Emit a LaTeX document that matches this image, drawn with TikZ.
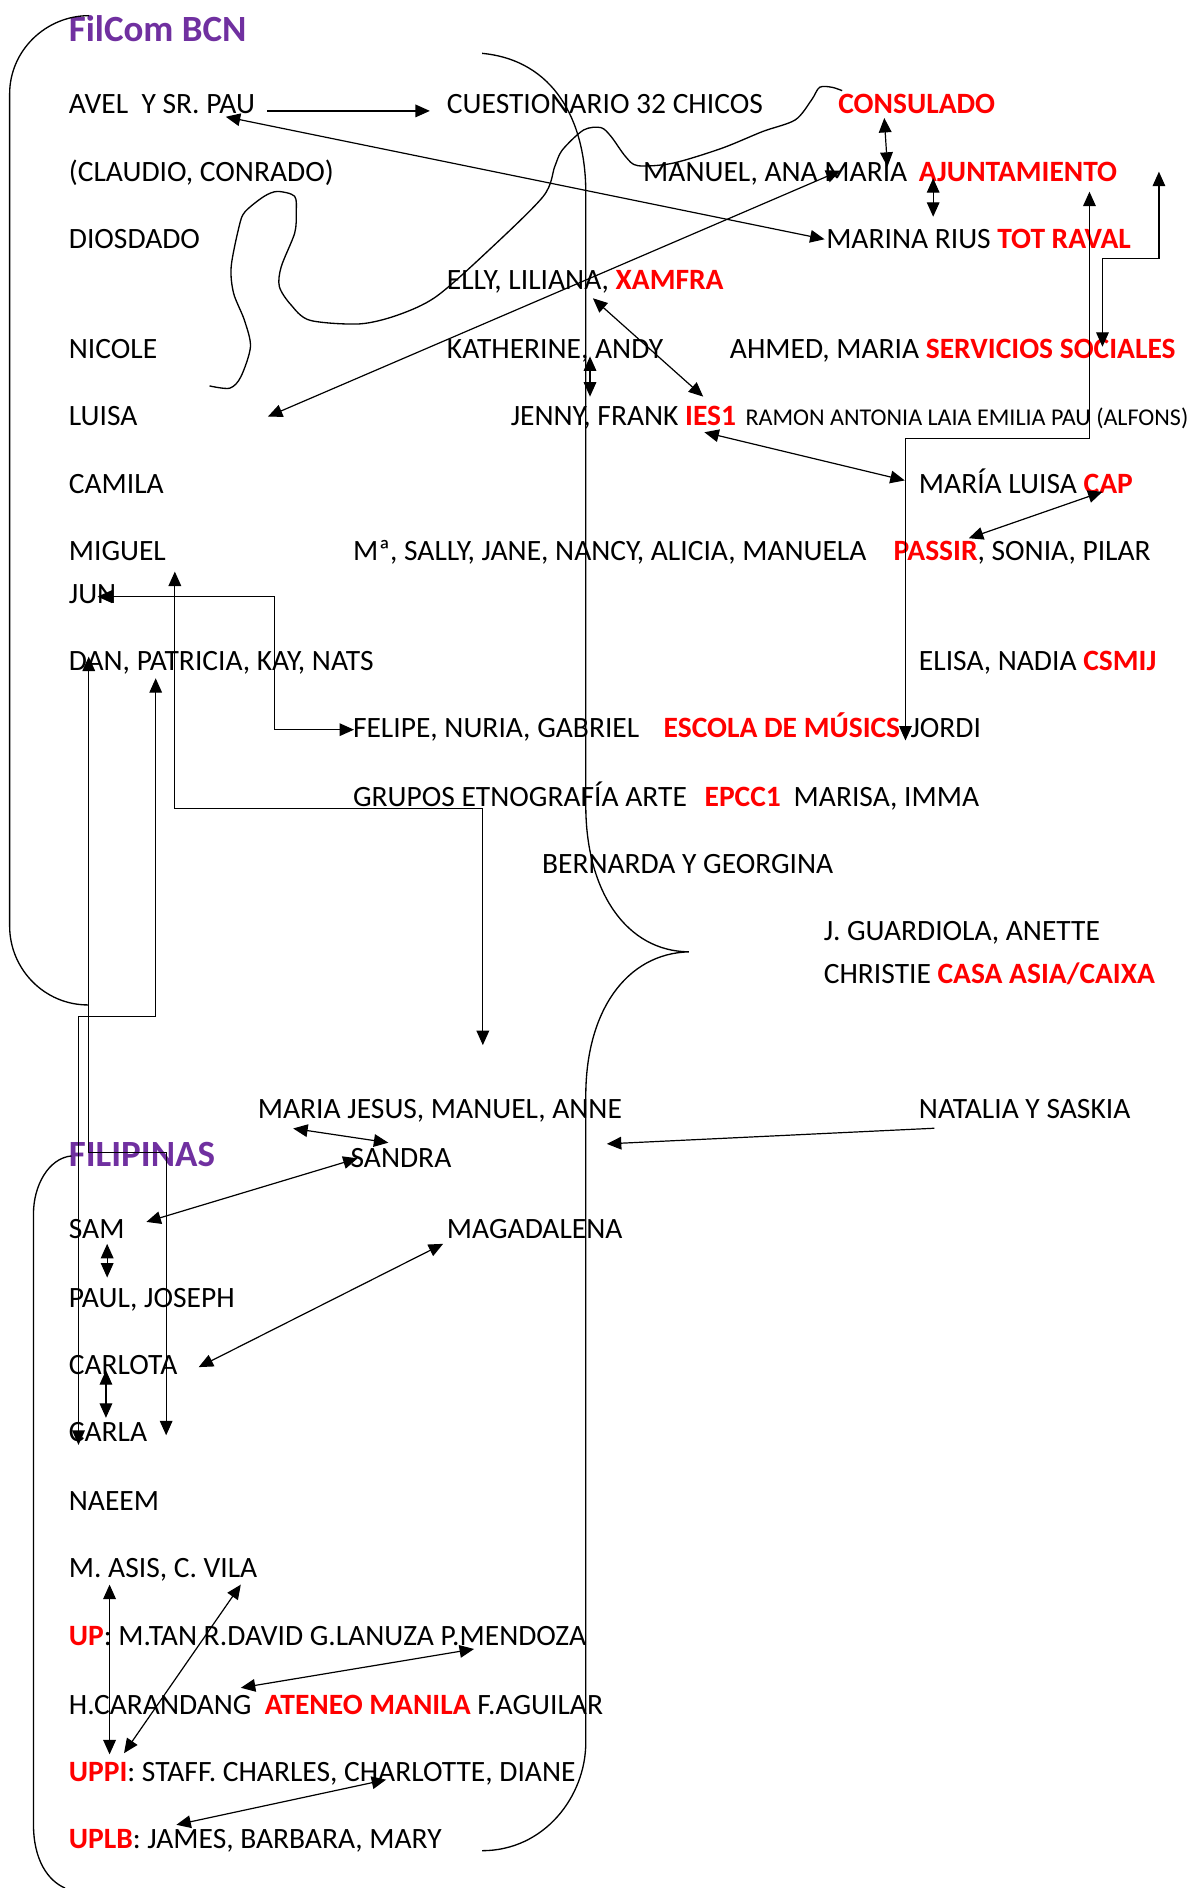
\documentclass[tikz,border=0pt]{standalone}
\usepackage{fontspec}
\setmainfont{Carlito}
\usetikzlibrary{arrows.meta}
\definecolor{filpurple}{HTML}{7030A0}
\definecolor{orgred}{HTML}{FF0000}
\newcommand{\org}[1]{\textcolor{orgred}{\bfseries #1}}

\begin{document}
\begin{tikzpicture}[x=1pt,y=-1pt,
  txt/.style={anchor=base west,inner sep=0pt,font=\fontsize{24.5}{29}\selectfont},
  small/.style={txt,font=\fontsize{20}{24}\selectfont},
  head/.style={txt,text=filpurple,font=\fontsize{30.7}{36}\selectfont\bfseries},
  conn/.style={line width=1pt},
  arr/.style={conn,-{Triangle[length=12pt,width=10.5pt]}},
  dbl/.style={conn,{Triangle[length=12pt,width=10.5pt]}-{Triangle[length=12pt,width=10.5pt]}},
  brace/.style={line width=1.1pt}]
  \useasboundingbox (0,0) rectangle (989,1568);

  % headings
  \node[head] (bcn) at (57,34.6) {FilCom BCN};
  \node[head] (fil) at (57,969) {FILIPINAS};

  % left column
  \foreach \nm/\yy/\txt in {avel/94.5/{AVEL\ \ Y SR. PAU}, claudio/150.5/{(CLAUDIO, CONRADO)},
      diosdado/206.5/DIOSDADO, nicole/297.5/NICOLE, luisa/353.5/LUISA, camila/409.5/CAMILA,
      miguel/465.5/MIGUEL, jun/501.5/JUN, dan/556.5/{DAN, PATRICIA, KAY, NATS},
      sam/1028.5/SAM, paul/1085.5/{PAUL, JOSEPH}, carlota/1141.5/CARLOTA, carla/1197.5/CARLA,
      naeem/1254.5/NAEEM, masis/1310.5/{M. ASIS, C. VILA}}
    \node[txt] (\nm) at (57,\yy) {\txt};
  \node[txt] (up) at (57,1366.5) {\org{UP}: M.TAN R.DAVID G.LANUZA P.MENDOZA};
  \node[txt] (ateneo) at (57,1423.5) {H.CARANDANG\ \ \org{ATENEO MANILA} F.AGUILAR};
  \node[txt] (uppi) at (57,1479.5) {\org{UPPI}: STAFF. CHARLES, CHARLOTTE, DIANE};
  \node[txt] (uplb) at (57,1535.5) {\org{UPLB}: JAMES, BARBARA, MARY};

  % Barcelona contacts
  \node[txt] (cuest) at (371,94.5) {CUESTIONARIO 32 CHICOS};
  \node[txt] (consul) at (696,94.5) {\org{CONSULADO}};
  \node[txt] (manuel) at (534,150.5) {MANUEL, ANA MARIA};
  \node[txt] (ajunt) at (763,150.5) {\org{AJUNTAMIENTO}};
  \node[txt] (marina) at (686,206.5) {MARINA RIUS \org{TOT RAVAL}};
  \node[txt] (elly) at (371,240.5) {ELLY, LILIANA, \org{XAMFRA}};
  \node[txt] (kath) at (371,297.5) {KATHERINE, ANDY};
  \node[txt] (ahmed) at (606,297.5) {AHMED, MARIA \org{SERVICIOS SOCIALES}};
  \node[txt] (jenny) at (424,353.5) {JENNY, FRANK \org{IES1}};
  \node[small] (ramon) at (619,353.5) {RAMON ANTONIA LAIA EMILIA PAU (ALFONS)};
  \node[txt] (mluisa) at (763,409.5) {MARÍA LUISA \org{CAP}};
  \node[txt] (sally) at (293,465.5) {Mª, SALLY, JANE, NANCY, ALICIA, MANUELA};
  \node[txt] (passir) at (742,465.5) {\org{PASSIR}, SONIA, PILAR};
  \node[txt] (elisa) at (763,556.5) {ELISA, NADIA \org{CSMIJ}};
  \node[txt] (felipe) at (293,612.5) {FELIPE, NURIA, GABRIEL};
  \node[txt] (escola) at (551,612.5) {\org{ESCOLA DE MÚSICS}};
  \node[txt] (jordi) at (756,612.5) {JORDI};
  \node[txt] (grupos) at (293,669.5) {GRUPOS ETNOGRAFÍA ARTE};
  \node[txt] (epcc) at (585,669.5) {\org{EPCC1}};
  \node[txt] (marisa) at (659,669.5) {MARISA, IMMA};
  \node[txt] (bern) at (450,725.5) {BERNARDA Y GEORGINA};
  \node[txt] (guard) at (684,781) {J. GUARDIOLA, ANETTE};
  \node[txt] (christie) at (684,816.5) {CHRISTIE \org{CASA ASIA/CAIXA}};
  \node[txt] (mjesus) at (214,928.5) {MARIA JESUS, MANUEL, ANNE};
  \node[txt] (natalia) at (763,928.5) {NATALIA Y SASKIA};
  \node[txt] (sandra) at (291,969.5) {SANDRA};
  \node[txt] (magad) at (371,1028.5) {MAGADALENA};

  % brackets
  \draw[brace] (74,13) .. controls (38,13) and (8,42) .. (8,78) -- (8,769)
    .. controls (8,805) and (37,834.6) .. (73,834.6);
  \draw[brace] (59.3,960) .. controls (40,962) and (27.8,985) .. (27.8,1008) -- (27.8,1515)
    .. controls (27.8,1545) and (40,1562) .. (54,1568);
  \draw[brace] (400.4,44.3) .. controls (460,50) and (486.5,100) .. (486.5,160) -- (486.5,669)
    .. controls (486.5,740) and (520,790) .. (572,790.5)
    .. controls (520,792) and (486.5,840) .. (486.5,910) -- (486.5,1447)
    .. controls (486.5,1492) and (452,1537) .. (400.4,1537);
  % squiggle
  \draw[brace] plot[smooth] coordinates {(174,320.5) (190.7,322.4) (200,313) (208,288) (203,266)
    (194,243.5) (192,221.4) (198.6,188) (203.4,176) (219,163.3) (230.4,159) (244.7,163) (246,177)
    (244.7,193.7) (233.6,221.4) (232,238) (241.5,253) (257.4,266) (298.7,269) (330.5,261.6)
    (362,246.5) (403.6,210) (451,163.3) (460.7,138.4) (467,124.6) (484.6,108) (499.1,106)
    (507.6,113.5) (519.5,130) (529.7,137.6) (558.5,135.6) (599.3,123.2) (633.2,109.3)
    (660.4,99.6) (674,83) (680.7,72.5) (691,72.5) (699.4,75.3)};

  % arrow ends
  \coordinate (pau) at (187.5,97);
  \coordinate (marinaL) at (684.8,198.7);
  \coordinate (consulB) at (734.4,98);
  \coordinate (ajuntT) at (737,138.5);
  \coordinate (ajuntB) at (775,148);
  \coordinate (marinaT) at (775,180);
  \coordinate (luisaR) at (222.5,346);
  \coordinate (mariaR) at (698,141.7);
  \coordinate (xamfraB) at (492.4,247.7);
  \coordinate (iesT) at (584,329.4);
  \coordinate (kathB) at (490,296);
  \coordinate (jennyT) at (490,329.4);
  \coordinate (iesB) at (585,359);
  \coordinate (capL) at (751.4,399);
  \coordinate (ajuntR) at (904.8,159.2);
  \coordinate (jordiL) at (752,615);
  \coordinate (ravalR) at (962.5,142.6);
  \coordinate (socialT) at (915.6,288);
  \coordinate (capB) at (915.6,408.4);
  \coordinate (passirT) at (804.6,447);
  \coordinate (junR) at (81,495.5);
  \coordinate (felipeL) at (294,606);
  \coordinate (miguelB) at (145.2,474.7);
  \coordinate (gruposB) at (401,868);
  \coordinate (danA) at (73.7,545.3);
  \coordinate (carlaR) at (138,1192);
  \coordinate (danB) at (129.3,563.3);
  \coordinate (carlaL) at (65.2,1200);
  \coordinate (nataliaL) at (776,937);
  \coordinate (anneR) at (504,950);
  \coordinate (mjesusB) at (243.5,937.2);
  \coordinate (sandraT) at (322.5,949);
  \coordinate (sandraL) at (297,962);
  \coordinate (samR) at (121.6,1014.8);
  \coordinate (samB) at (89,1033);
  \coordinate (paulT) at (89,1061);
  \coordinate (magadL) at (368,1033);
  \coordinate (carlotaR) at (165,1135.4);
  \coordinate (carlotaB) at (88,1138);
  \coordinate (carlaT) at (88,1177.5);
  \coordinate (asisB) at (91,1316);
  \coordinate (uppiT) at (91,1457);
  \coordinate (vilaB) at (200,1316);
  \coordinate (uppiR) at (103,1456);
  \coordinate (mendozaB) at (393.7,1369.5);
  \coordinate (carandangT) at (200,1401.7);
  \coordinate (charlotteB) at (320.7,1478);
  \coordinate (uplbT) at (146.5,1515.5);

  % connectors
  \draw[arr] ([xshift=10pt]avel.mid east) -- ([xshift=-14pt]cuest.mid west);
  \draw[arr] (nataliaL) -- (anneR);
  \foreach \a/\b in {pau/marinaL, consulB/ajuntT, ajuntB/marinaT, luisaR/mariaR, xamfraB/iesT,
      kathB/jennyT, iesB/capL, capB/passirT, mjesusB/sandraT, sandraL/samR, samB/paulT,
      magadL/carlotaR, carlotaB/carlaT, asisB/uppiT, vilaB/uppiR, mendozaB/carandangT,
      charlotteB/uplbT}
    \draw[dbl] (\a) -- (\b);
  \draw[dbl] (ajuntR) |- (752,364) -- (jordiL);
  \draw[dbl] (ravalR) -- (962.5,214.5) -| (socialT);
  \draw[dbl] (junR) -| (227.8,606) -- (felipeL);
  \draw[dbl] (miguelB) |- (401,671.2) -- (gruposB);
  \draw[dbl] (danA) |- (138,957) -- (carlaR);
  \draw[dbl] (danB) |- (65.2,844) -- (carlaL);
\end{tikzpicture}
\end{document}
